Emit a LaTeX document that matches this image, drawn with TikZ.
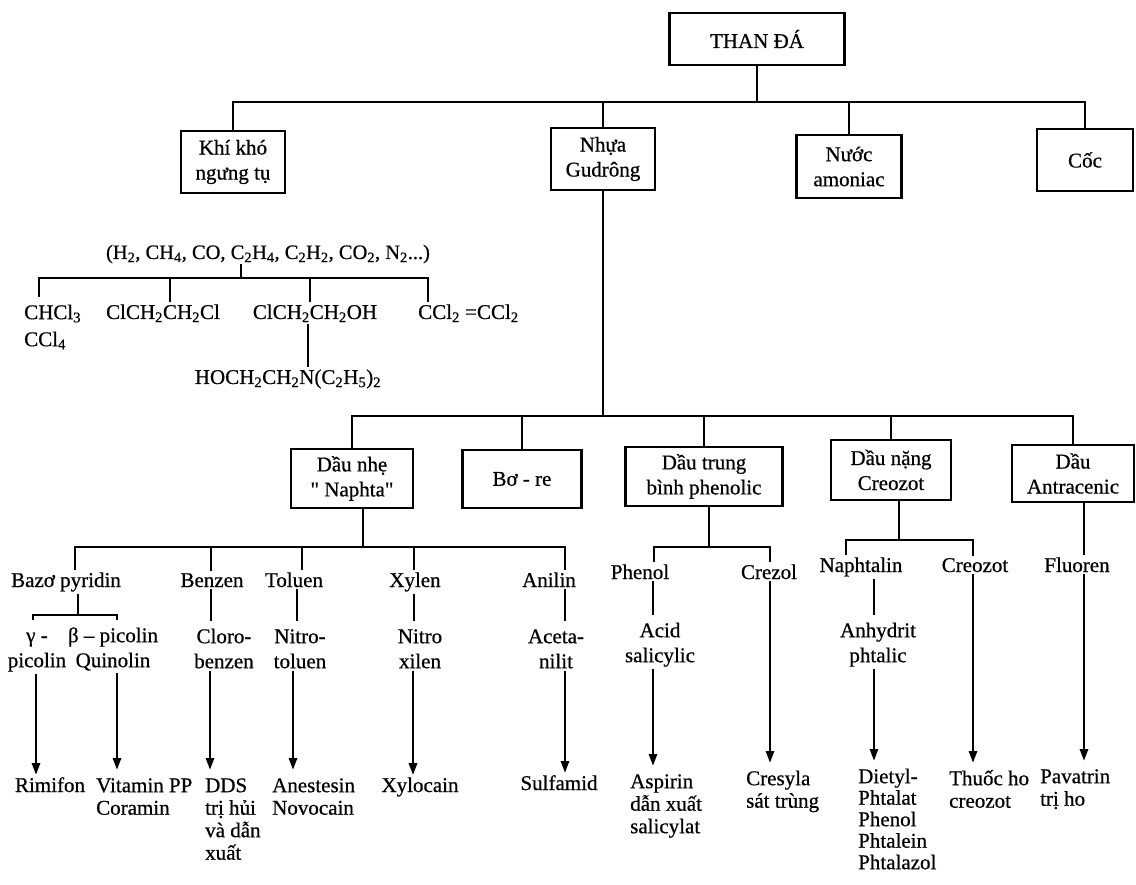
\documentclass[tikz,border=0pt]{standalone}
\usepackage{fontspec}
\setmainfont{Liberation Serif}[FakeBold=0.6]
\usetikzlibrary{arrows.meta}
\newcommand\myst{\rule{0pt}{20pt}}
\newcommand\dq{\XeTeXglyph\XeTeXcharglyph"22\relax}
\begin{document}
\begin{tikzpicture}[x=1pt,y=-1pt,
  every node/.style={font=\fontsize{21}{25}\selectfont},
  box/.style={draw,line width=2.2pt,align=center,inner sep=0pt},
  lbl/.style={align=center,inner sep=2pt},
  lbll/.style={align=left,inner sep=2pt},
  tight/.style={font=\fontsize{21}{22.5}\selectfont},
  ln/.style={line width=2.7pt},
  arr/.style={line width=2.7pt,-{Triangle[width=8pt,length=12pt]}}]
\useasboundingbox (0,0) rectangle (1136,885);

% top level
\node[box,minimum width=175pt,minimum height=52pt] (than) at (757,39) {THAN ĐÁ};
\node[box,minimum width=104pt,minimum height=62pt] (khi) at (233,162) {Khí khó\\ngưng tụ};
\node[box,minimum width=104pt,minimum height=62pt] (gud) at (603,159) {Nhựa\\Gudrông};
\node[box,minimum width=105pt,minimum height=63pt] (nuoc) at (849,166.5) {Nước\\amoniac};
\node[box,minimum width=96pt,minimum height=62pt] (coc) at (1085,160) {Cốc};
\coordinate (b1) at (757,102);
\draw[ln] (than.south) -- (b1);
\draw[ln] (b1) -| (khi.north);
\draw[ln] (b1) -| (gud.north);
\draw[ln] (b1) -| (nuoc.north);
\draw[ln] (b1) -| (coc.north);

% gas branch
\node[anchor=base,inner sep=0pt,font=\fontsize{20.5}{25}\selectfont] (form) at (268,259) {(H\textsubscript{2}, CH\textsubscript{4}, CO, C\textsubscript{2}H\textsubscript{4}, C\textsubscript{2}H\textsubscript{2}, CO\textsubscript{2}, N\textsubscript{2}...)};
\coordinate (b2) at (241,278);
\draw[ln] (form.south -| b2) -- (b2);
\node[lbll,anchor=north west,font=\fontsize{21}{27}\selectfont] (chcl) at (22,297) {\myst CHCl\textsubscript{3}\\CCl\textsubscript{4}};
\draw[ln] (b2) -| (chcl.north -| 39,0);
\node[lbl,anchor=base] (clch) at (163,319) {ClCH\textsubscript{2}CH\textsubscript{2}Cl};
\draw[ln] (b2) -| (clch.north -| 170,0);
\node[lbl,anchor=base] (cloh) at (315,319) {ClCH\textsubscript{2}CH\textsubscript{2}OH};
\draw[ln] (b2) -| (cloh.north -| 310,0);
\node[lbl,anchor=base west] (ccl) at (416,319) {CCl\textsubscript{2} =CCl\textsubscript{2}};
\draw[ln] (b2) -| (ccl.north -| 428,0);
\node[lbl,anchor=base] (hoch) at (288,384) {HOCH\textsubscript{2}CH\textsubscript{2}N(C\textsubscript{2}H\textsubscript{5})\textsubscript{2}};
\draw[ln] (cloh.south -| 308,0) -- (hoch.north -| 308,0);

% tar fractions
\node[box,minimum width=122pt,minimum height=59pt] (nhe) at (352,478.5) {Dầu nhẹ\\\dq{} Naphta\dq};
\node[box,minimum width=119pt,minimum height=58pt] (bore) at (522,479) {Bơ - re};
\node[box,minimum width=157pt,minimum height=59pt] (dtb) at (704,476.5) {Dầu trung\\bình phenolic};
\node[box,minimum width=120pt,minimum height=60pt] (dnang) at (891,470) {Dầu nặng\\Creozot};
\node[box,minimum width=122pt,minimum height=57pt] (dantra) at (1073,473.5) {Dầu\\Antracenic};
\coordinate (b3) at (603,416);
\draw[ln] (gud.south) -- (b3);
\draw[ln] (b3) -| (nhe.north);
\draw[ln] (b3) -| (bore.north);
\draw[ln] (b3) -| (dtb.north);
\draw[ln] (b3) -| (dnang.north);
\draw[ln] (b3) -| (dantra.north);

% light oil
\coordinate (b4) at (363,547);
\draw[ln] (nhe.south -| b4) -- (b4);
\node[lbl,anchor=base] (bazo) at (66,587) {Bazơ pyridin};
\draw[ln] (b4) -| (bazo.north -| 75,0);
\node[lbl,anchor=base] (benz) at (212,587) {Benzen};
\draw[ln] (b4) -| (benz.north -| 211,0);
\node[lbl,anchor=base] (tolu) at (294,587) {Toluen};
\draw[ln] (b4) -| (tolu.north -| 302,0);
\node[lbl,anchor=base] (xyl) at (415,587) {Xylen};
\draw[ln] (b4) -| (xyl.north -| 414,0);
\node[lbl,anchor=base] (anil) at (549,587) {Anilin};
\draw[ln] (b4) -| (anil.north -| 565,0);

\coordinate (b5) at (78,615);
\draw[ln] (bazo.south -| b5) -- (b5);
\node[lbl,anchor=north] (gam) at (37,620) {\myst γ -\\picolin};
\draw[ln] (b5) -| (gam.north -| 33,0);
\node[lbl,anchor=north] (bet) at (113,620) {\myst β – picolin\\Quinolin};
\draw[ln] (b5) -| (bet.north -| 117,0);

\node[lbl,anchor=base] (rimi) at (50,792) {Rimifon};
\draw[arr] (gam.south -| 36,0) -- (rimi.north -| 36,0);
\node[lbll,tight,anchor=north west] (vit) at (94,770) {\myst Vitamin PP\\Coramin};
\draw[arr] (bet.south -| 117,0) -- (vit.north -| 117,0);

\node[lbl,anchor=north] (clo) at (224,621) {\myst Cloro-\\benzen};
\draw[ln] (benz.south -| 211,0) -- (clo.north -| 211,0);
\node[lbll,tight,anchor=north west] (dds) at (203,770) {\myst DDS\\trị hủi\\và dẫn\\xuất};
\draw[arr] (clo.south -| 210,0) -- (dds.north -| 210,0);

\node[lbl,anchor=north] (nitt) at (300,621) {\myst Nitro-\\toluen};
\draw[ln] (tolu.south -| 297,0) -- (nitt.north -| 297,0);
\node[lbll,tight,anchor=north west] (anes) at (270,770) {\myst Anestesin\\Novocain};
\draw[arr] (nitt.south -| 293,0) -- (anes.north -| 293,0);

\node[lbl,anchor=north] (nitx) at (420,621) {\myst Nitro\\xilen};
\draw[ln] (xyl.south -| 414,0) -- (nitx.north -| 414,0);
\node[lbl,anchor=base] (xyloc) at (420,792) {Xylocain};
\draw[arr] (nitx.south -| 413,0) -- (xyloc.north -| 413,0);

\node[lbl,anchor=north] (acet) at (556,621) {\myst Aceta-\\nilit};
\draw[ln] (anil.south -| 565,0) -- (acet.north -| 565,0);
\node[lbl,anchor=base] (sulf) at (559,790) {Sulfamid};
\draw[arr] (acet.south -| 565,0) -- (sulf.north -| 565,0);

% middle oil
\coordinate (b6) at (709,547);
\draw[ln] (dtb.south -| b6) -- (b6);
\node[lbl,anchor=base] (phen) at (640,579) {Phenol};
\draw[ln] (b6) -| (phen.north -| 654,0);
\node[lbl,anchor=base] (crez) at (769,579) {Crezol};
\draw[ln] (b6) -| (crez.north -| 770,0);
\node[lbl,anchor=north] (acid) at (660,615) {\myst Acid\\salicylic};
\draw[ln] (phen.south -| 653,0) -- (acid.north -| 653,0);
\node[lbll,tight,anchor=north west] (asp) at (628,766) {\myst Aspirin\\dẫn xuất\\salicylat};
\draw[arr] (acid.south -| 653,0) -- (asp.north -| 653,0);
\node[lbll,tight,anchor=north west] (cres) at (744,763) {\myst Cresyla\\sát trùng};
\draw[arr] (crez.south -| 770,0) -- (cres.north -| 770,0);

% heavy oil
\coordinate (b7) at (899,540);
\draw[ln] (dnang.south -| b7) -- (b7);
\node[lbl,anchor=base] (naph) at (861,572) {Naphtalin};
\draw[ln] (b7) -| (naph.north -| 846,0);
\node[lbl,anchor=base] (crz) at (975,572) {Creozot};
\draw[ln] (b7) -| (crz.north -| 973,0);
\node[lbl,anchor=north] (anh) at (878,615) {\myst Anhydrit\\phtalic};
\draw[ln] (naph.south -| 874,0) -- (anh.north -| 874,0);
\node[lbll,anchor=north west,font=\fontsize{21}{21.5}\selectfont] (diet) at (856,761) {\myst Dietyl-\\Phtalat\\Phenol\\Phtalein\\Phtalazol};
\draw[arr] (anh.south -| 874,0) -- (diet.north -| 874,0);
\node[lbll,tight,anchor=north west] (thuoc) at (947,763) {\myst Thuốc ho\\creozot};
\draw[arr] (crz.south -| 973,0) -- (thuoc.north -| 973,0);

% anthracene oil
\node[lbl,anchor=base] (flu) at (1077,572) {Fluoren};
\draw[ln] (dantra.south -| 1084,0) -- (flu.north -| 1084,0);
\node[lbll,tight,anchor=north west] (pav) at (1038,761) {\myst Pavatrin\\trị ho};
\draw[arr] (flu.south -| 1084,0) -- (pav.north -| 1084,0);
\end{tikzpicture}
\end{document}
